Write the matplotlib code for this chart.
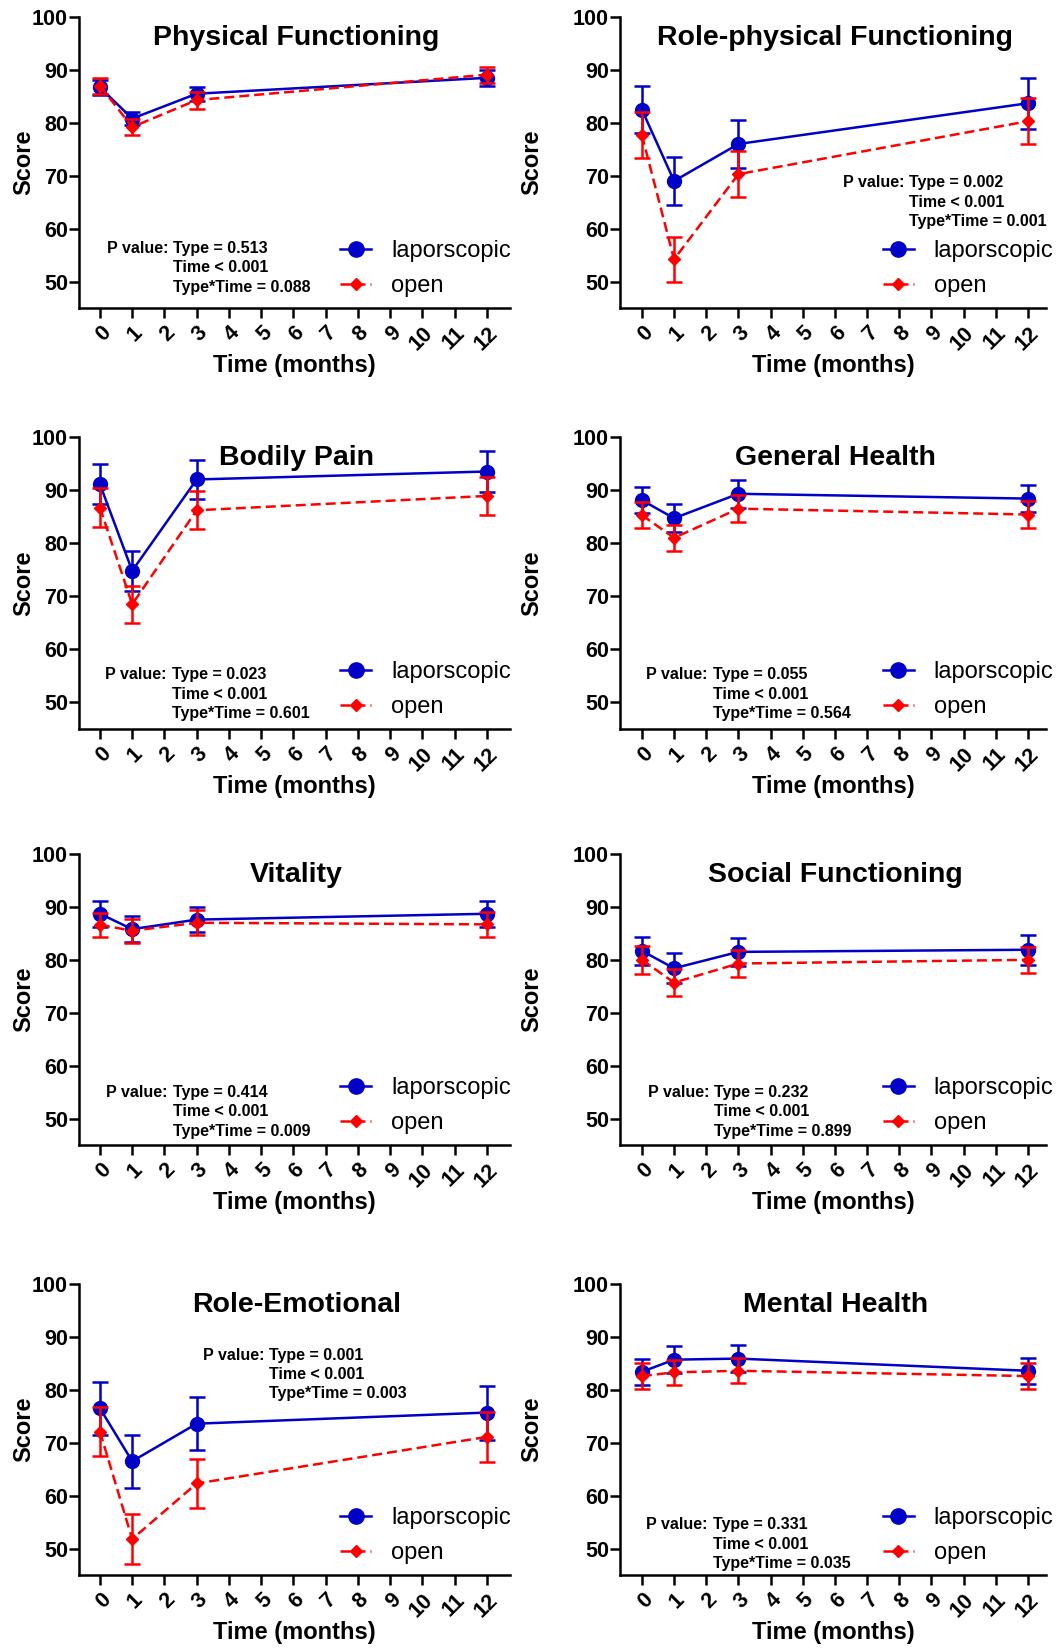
import matplotlib
matplotlib.use("Agg")
import matplotlib.pyplot as plt
from matplotlib.lines import Line2D

plt.rcParams['font.family'] = ['Liberation Sans', 'DejaVu Sans']
plt.rcParams['font.weight'] = 'bold'
plt.rcParams['axes.labelweight'] = 'bold'

months = [0, 1, 3, 12]
titles = ['Physical Functioning', 'Role-physical Functioning', 'Bodily Pain',
          'General Health', 'Vitality', 'Social Functioning',
          'Role-Emotional', 'Mental Health']

lap_mean = [[86.7, 80.8, 85.5, 88.5],
            [82.5, 69.0, 76.0, 83.7],
            [91.1, 74.8, 92.0, 93.5],
            [88.1, 84.7, 89.3, 88.4],
            [88.7, 85.8, 87.6, 88.7],
            [81.7, 78.4, 81.5, 81.9],
            [76.5, 66.5, 73.6, 75.7],
            [83.4, 85.7, 85.9, 83.6]]
lap_err = [[1.4, 1.2, 1.3, 1.5],
           [4.4, 4.6, 4.6, 4.8],
           [3.8, 3.8, 3.7, 3.8],
           [2.5, 2.6, 2.6, 2.5],
           [2.5, 2.4, 2.4, 2.5],
           [2.7, 2.8, 2.7, 2.8],
           [5.0, 5.0, 5.0, 5.1],
           [2.5, 2.6, 2.6, 2.5]]
open_mean = [[87.0, 79.2, 84.3, 89.1],
             [77.7, 54.2, 70.3, 80.3],
             [86.7, 68.5, 86.2, 88.9],
             [85.3, 81.0, 86.5, 85.4],
             [86.6, 85.5, 87.0, 86.7],
             [80.0, 75.7, 79.3, 80.0],
             [72.1, 51.8, 62.3, 71.1],
             [82.6, 83.3, 83.6, 82.6]]
open_err = [[1.5, 1.5, 1.6, 1.5],
            [4.3, 4.3, 4.3, 4.3],
            [3.6, 3.5, 3.6, 3.6],
            [2.5, 2.5, 2.5, 2.5],
            [2.3, 2.3, 2.4, 2.3],
            [2.6, 2.5, 2.5, 2.5],
            [4.7, 4.7, 4.7, 4.8],
            [2.4, 2.4, 2.4, 2.4]]

p_type = ['0.513', '0.002', '0.023', '0.055', '0.414', '0.232', '0.001', '0.331']
p_time = '< 0.001'
p_inter = ['0.088', '0.001', '0.601', '0.564', '0.009', '0.899', '0.003', '0.035']

# p-value text spots (axes fractions): x of "P value:", x of the rest, y of first line
p_pos = [(0.065, 0.218, 0.206), (0.523, 0.678, 0.430),
         (0.060, 0.216, 0.186), (0.061, 0.218, 0.186),
         (0.063, 0.218, 0.182), (0.065, 0.221, 0.182),
         (0.288, 0.441, 0.756), (0.061, 0.218, 0.172)]

blue = '#0000C8'
red = '#FF0000'

W, H = 1063, 1650
fig = plt.figure(figsize=(W / 100, H / 100), dpi=100)

col_x = [(79, 510), (620, 1046)]
row_y = [(17, 308), (437, 729), (854, 1145), (1284, 1575)]

for i in range(8):
    r, c = divmod(i, 2)
    x0, x1 = col_x[c]
    y0, y1 = row_y[r]
    ax = fig.add_axes([x0 / W, 1 - y1 / H, (x1 - x0) / W, (y1 - y0) / H])

    ax.errorbar(months, lap_mean[i], yerr=lap_err[i], fmt='none', ecolor=blue,
                elinewidth=1.8, capsize=6, capthick=1.8, zorder=3)
    ax.plot(months, lap_mean[i], color=blue, lw=1.8, marker='o', ms=10, zorder=3)
    ax.errorbar(months, open_mean[i], yerr=open_err[i], fmt='none', ecolor=red,
                elinewidth=1.8, capsize=6, capthick=1.8, zorder=4)
    ax.plot(months, open_mean[i], color=red, lw=1.8, ls='--', dashes=(4, 2),
            marker='D', ms=6.5, zorder=4)

    if c == 0:
        ax.set_xlim(-0.65, 12.72)
    else:
        ax.set_xlim(-0.68, 12.56)
    ax.set_ylim(45, 100)
    ax.set_yticks([50, 60, 70, 80, 90, 100])
    ax.set_xticks(range(13))
    ax.set_xticklabels([str(m) for m in range(13)], rotation=45, ha='right',
                       rotation_mode='anchor')
    ax.tick_params(width=1.8, length=7, labelsize=15.5)
    ax.tick_params(axis='y', pad=1)
    for lbl in ax.get_xticklabels() + ax.get_yticklabels():
        lbl.set_fontweight('bold')
    for s in ['top', 'right']:
        ax.spines[s].set_visible(False)
    for s in ['left', 'bottom']:
        ax.spines[s].set_linewidth(1.8)

    ax.set_xlabel('Time (months)', fontsize=17, fontweight='bold', labelpad=0)
    ax.set_ylabel('Score', fontsize=17, fontweight='bold')
    ax.yaxis.set_label_coords(-0.102 if c == 0 else -0.181, 0.5)
    ax.text(0.505, 0.905, titles[i], transform=ax.transAxes, ha='center',
            va='baseline', fontsize=20.5, fontweight='bold')

    px, qx, py = p_pos[i]
    step = 0.067
    ax.text(px, py, 'P value:', transform=ax.transAxes, fontsize=11.5, va='center')
    ax.text(qx, py, 'Type = ' + p_type[i], transform=ax.transAxes, fontsize=11.5, va='center')
    ax.text(qx, py - step, 'Time ' + p_time, transform=ax.transAxes, fontsize=11.5, va='center')
    ax.text(qx, py - 2 * step, 'Type*Time = ' + p_inter[i], transform=ax.transAxes,
            fontsize=11.5, va='center')

    handles = [Line2D([], [], color=blue, lw=1.8, marker='o', ms=11),
               Line2D([], [], color=red, lw=1.8, ls='--', dashes=(4, 2), marker='D', ms=6.5)]
    hx = 0.606 if c == 0 else 0.617
    ax.legend(handles, ['laporscopic', 'open'], loc='center left',
              bbox_to_anchor=(hx, 0.135), frameon=False, borderpad=0,
              borderaxespad=0, handlelength=1.3, handletextpad=0.85,
              labelspacing=0.55, prop={'size': 17, 'weight': 'normal'})

fig.savefig('out.png', dpi=100)
